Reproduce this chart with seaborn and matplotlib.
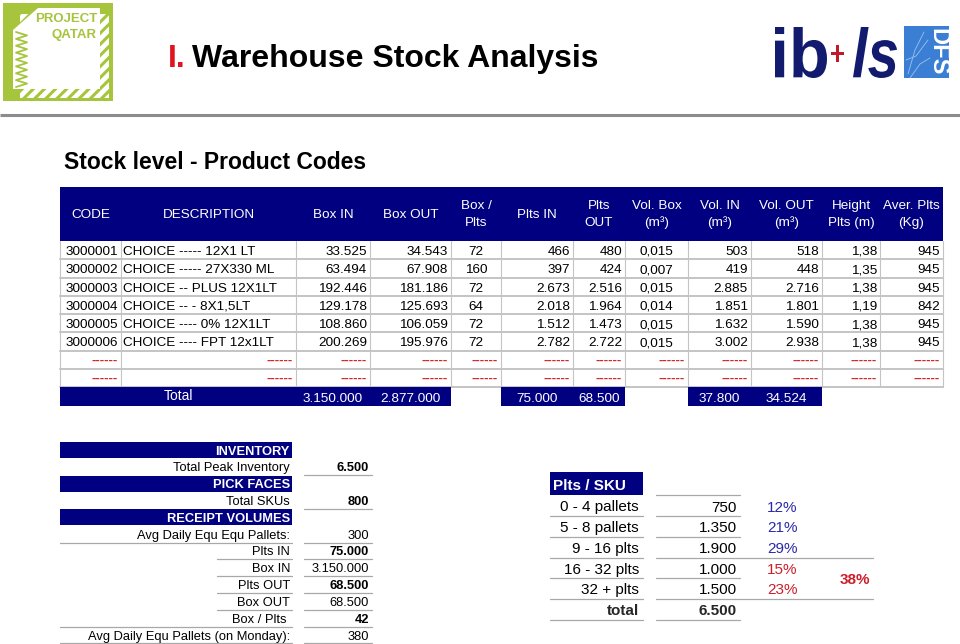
import numpy as np
import matplotlib
matplotlib.use("Agg")
import matplotlib.pyplot as plt
from matplotlib.patches import Rectangle, Polygon, PathPatch
from matplotlib.textpath import TextPath
from matplotlib.font_manager import FontProperties
from matplotlib.transforms import Affine2D
import seaborn as sns

# ---- main stock table ----
codes = ["3000001", "3000002", "3000003", "3000004", "3000005", "3000006"]
descriptions = ["CHOICE ----- 12X1 LT", "CHOICE ----- 27X330 ML", "CHOICE -- PLUS 12X1LT",
                "CHOICE -- - 8X1,5LT", "CHOICE ---- 0% 12X1LT", "CHOICE ---- FPT 12x1LT"]
box_in = [33525, 63494, 192446, 129178, 108860, 200269]
box_out = [34543, 67908, 181186, 125693, 106059, 195976]
box_per_plt = [72, 160, 72, 64, 72, 72]
plts_in = [466, 397, 2673, 2018, 1512, 2782]
plts_out = [480, 424, 2516, 1964, 1473, 2722]
vol_box = [0.015, 0.007, 0.015, 0.014, 0.015, 0.015]
vol_in = [503, 419, 2885, 1851, 1632, 3002]
vol_out = [518, 448, 2716, 1801, 1590, 2938]
height_plts = [1.38, 1.35, 1.38, 1.19, 1.38, 1.38]
aver_plts_kg = [945, 945, 945, 842, 945, 945]
n_placeholder_rows = 2

total_box_in = 3150000
total_box_out = 2877000
total_plts_in = 75000
total_plts_out = 68500
total_vol_in = 37800
total_vol_out = 34524

column_headers = ["CODE", "DESCRIPTION", "Box IN", "Box OUT", "Box /\nPlts", "Plts IN",
                  "Plts\nOUT", "Vol. Box\n(m³)", "Vol. IN\n(m³)", "Vol. OUT\n(m³)",
                  "Height\nPlts (m)", "Aver. Plts\n(Kg)"]

# ---- summary table ----
summary_labels = ["INVENTORY", "Total Peak Inventory", "PICK FACES", "Total SKUs",
                  "RECEIPT VOLUMES", "Avg Daily Equ Equ Pallets:", "Plts IN", "Box IN",
                  "Plts OUT", "Box OUT", "Box / Plts ", "Avg Daily Equ Pallets (on Monday):"]
summary_values = [None, 6500, None, 800, None, 300, 75000, 3150000, 68500, 68500, 42, 380]

# ---- pallets per SKU ----
sku_bands = ["0 - 4 pallets", "5 - 8 pallets", "9 - 16 plts", "16 - 32 plts", "32 + plts"]
sku_counts = [750, 1350, 1900, 1000, 1500]
sku_share = [12, 21, 29, 15, 23]
sku_total = 6500
sku_share_top = 38


def thou(n):
    return f"{n:,}".replace(",", ".")


def dec(v, d):
    return f"{v:.{d}f}".replace(".", ",")


NAVY = "#000080"
GRID = "#c4c4c4"
RULE = "#a8a8a8"
RED = "#cc1f2a"
BLUE = "#2a2aa8"
GREEN = "#a6c43c"

sns.set_theme(style="white")
plt.rcParams["font.family"] = ["Liberation Sans", "DejaVu Sans"]
plt.rcParams["hatch.linewidth"] = 2.2

fig = plt.figure(figsize=(9.6, 6.44), dpi=100)
ax = fig.add_axes([0, 0, 1, 1])
ax.set_xlim(0, 960)
ax.set_ylim(644, 0)
ax.axis("off")


def fitted_text(s, x0, y0, x1, y1, color, style="normal"):
    tp = TextPath((0, 0), s, size=10,
                  prop=FontProperties(family="Liberation Sans", weight="bold", style=style))
    ext = tp.get_extents()
    tr = (Affine2D().translate(-ext.x0, -ext.y0)
          .scale((x1 - x0) / ext.width, -(y1 - y0) / ext.height)
          .translate(x0, y1))
    ax.add_patch(PathPatch(tr.transform_path(tp), fc=color, ec="none"))


# ---- header: logos, title, separator ----
ax.add_patch(Rectangle((3, 3), 110, 98, fc=GREEN, ec="none"))
ax.add_patch(Rectangle((20, 14), 89, 84, fc="white", ec=GREEN, hatch="///", lw=0))
ax.add_patch(Polygon([(13, 30), (38, 8), (100, 8), (100, 89), (13, 89)], fc="white", ec="none"))
zz_y = np.linspace(32, 87, 17)
zz_x = np.tile([16, 27], 9)[:17]
ax.plot(zz_x, zz_y, color=GREEN, lw=1.3)
logo_font = ["Liberation Sans Narrow", "Liberation Sans"]
ax.text(97, 19, "PROJECT", ha="right", va="center", color=GREEN, fontsize=9.5,
        fontweight="bold", family=logo_font)
ax.text(97, 35, "QATAR", ha="right", va="center", color=GREEN, fontsize=9.5,
        fontweight="bold", family=logo_font)

fitted_text("ib", 775, 27, 827, 78, "#121b6e")
fitted_text("+", 831, 45, 844, 62, "#c01a2a", style="italic")
fitted_text("ls", 853, 27, 897, 78, "#121b6e", style="italic")
ax.add_patch(Rectangle((904, 26), 45, 52, fc="#3b7fd4", ec="none"))
for pts in ([(908, 74), (915, 50), (924, 32)], [(906, 60), (916, 56), (928, 40)],
            [(910, 78), (920, 64), (930, 58)]):
    xs, ys = zip(*pts)
    ax.plot(xs, ys, color="#9cc2ee", lw=0.6)
ax.text(938, 52, "DFS", rotation=-90, ha="center", va="center", color="white",
        fontsize=17, fontweight="bold")

ax.text(168, 67, "I.", color="#e0141e", fontsize=23, fontweight="bold", va="baseline")
ax.text(192, 67, "Warehouse Stock Analysis", color="black", fontsize=23,
        fontweight="bold", va="baseline")
ax.plot([0, 960], [115, 115], color="#8c8c8c", lw=2.2, solid_capstyle="butt")

ax.text(64, 169, "Stock level - Product Codes", color="black", fontsize=16.5,
        fontweight="bold", va="baseline")

# ---- main table ----
col_edges = [60, 121, 296, 370, 451, 501, 573, 625, 688, 751, 822, 880, 943]
col_align = ["right", "left", "right", "right", "center", "right",
             "right", "center", "right", "right", "right", "right"]
head_top, head_bot = 187, 241
row_h = 18.28
n_rows = len(codes) + n_placeholder_rows
body_bot = head_bot + n_rows * row_h
fs = 9.7
base_off = 4.8  # baseline offset below the row centre


def cell_x(j, align):
    if align == "right":
        return col_edges[j + 1] - 3
    if align == "left":
        return col_edges[j] + 2
    return (col_edges[j] + col_edges[j + 1]) / 2


ax.add_patch(Rectangle((col_edges[0], head_top), col_edges[-1] - col_edges[0],
                       head_bot - head_top, fc=NAVY, ec="none"))
for j, h in enumerate(column_headers):
    ax.text(cell_x(j, "center"), (head_top + head_bot) / 2 + 0.5, h, color="white",
            fontsize=fs, ha="center", va="center", linespacing=1.45)

for i in range(1, n_rows + 1):
    y = head_bot + i * row_h
    ax.plot([col_edges[0], col_edges[-1]], [y, y], color=GRID, lw=1.4, zorder=1)
for x in col_edges:
    ax.plot([x, x], [head_bot, body_bot], color=GRID, lw=0.8, zorder=1)

rows = []
for k in range(len(codes)):
    rows.append([codes[k], descriptions[k], thou(box_in[k]), thou(box_out[k]),
                 str(box_per_plt[k]), thou(plts_in[k]), thou(plts_out[k]), dec(vol_box[k], 3),
                 thou(vol_in[k]), thou(vol_out[k]), dec(height_plts[k], 2), str(aver_plts_kg[k])])
for i, r in enumerate(rows):
    yc = head_bot + (i + 0.5) * row_h
    for j, s in enumerate(r):
        ax.text(cell_x(j, col_align[j]), yc + base_off, s, fontsize=fs, ha=col_align[j],
                va="baseline", color="black")
for i in range(len(codes), n_rows):
    yc = head_bot + (i + 0.5) * row_h
    for j in range(len(column_headers)):
        ax.text(cell_x(j, "right"), yc + 4, "------", fontsize=9.5, fontweight="bold",
                ha="right", va="baseline", color="#d42828")

tot_top, tot_bot = body_bot, body_bot + 19
for a, b in [(0, 4), (5, 7), (8, 10)]:
    ax.add_patch(Rectangle((col_edges[a], tot_top), col_edges[b] - col_edges[a],
                           tot_bot - tot_top, fc=NAVY, ec="none", zorder=2))
tot_y = (tot_top + tot_bot) / 2
ax.text((col_edges[0] + col_edges[2]) / 2, tot_y - 1, "Total", color="white", fontsize=fs + 0.3,
        ha="center", va="center", zorder=3)
for j, v in zip([2, 3, 5, 6, 8, 9], [total_box_in, total_box_out, total_plts_in,
                                      total_plts_out, total_vol_in, total_vol_out]):
    ax.text(cell_x(j, "center"), tot_y + base_off, thou(v), color="white", fontsize=fs,
            ha="center", va="baseline", zorder=3)

# ---- summary table ----
sum_y0, sum_step = 450, 16.82
band_x0, band_x1 = 60, 292
label_x, value_x = 290, 369
val_line = (304, 372)
bold_rows = {"Total Peak Inventory", "Total SKUs", "Plts IN", "Plts OUT", "Box / Plts "}
full_rule = {"Avg Daily Equ Equ Pallets:", "Box / Plts ", "Avg Daily Equ Pallets (on Monday):"}
short_rule = {"Plts IN", "Box IN", "Plts OUT", "Box OUT"}
for i, (lab, val) in enumerate(zip(summary_labels, summary_values)):
    yc = sum_y0 + i * sum_step
    if val is None:
        ax.add_patch(Rectangle((band_x0, yc - 8), band_x1 - band_x0, 16, fc=NAVY, ec="none"))
        ax.text(label_x, yc + 4.5, lab, color="white", fontsize=9.3, fontweight="bold",
                ha="right", va="baseline")
        continue
    ax.text(label_x, yc + 4.5, lab, color="black", fontsize=9.3, ha="right", va="baseline")
    ax.text(value_x, yc + 4.5, thou(val), color="black", fontsize=9.3,
            fontweight="bold" if lab in bold_rows else "normal", ha="right", va="baseline")
    yl = yc + 8.4
    ax.plot(val_line, [yl, yl], color=RULE, lw=0.9)
    if lab in full_rule:
        ax.plot([band_x0, band_x1], [yl, yl], color=RULE, lw=0.9)
    elif lab in short_rule:
        ax.plot([217, band_x1], [yl, yl], color=RULE, lw=0.9)

# ---- pallets per SKU ----
sku_y0, sku_step = 506, 20.7
ax.add_patch(Rectangle((550, 472), 93, 23, fc=NAVY, ec="none"))
ax.text(553, 489.5, "Plts / SKU", color="white", fontsize=11, fontweight="bold",
        ha="left", va="baseline")
ax.plot([656, 740], [495, 495], color=RULE, lw=0.9)
for i, (band, cnt, sh) in enumerate(zip(sku_bands, sku_counts, sku_share)):
    yc = sku_y0 + i * sku_step
    ax.text(639, yc + 5.5, band, fontsize=11, ha="right", va="baseline", color="black")
    ax.text(737, yc + 5.5, thou(cnt), fontsize=11, ha="right", va="baseline", color="black")
    ax.text(782, yc + 5.5, f"{sh}%", fontsize=11, ha="center", va="baseline",
            color=BLUE if i < 3 else RED)
    yl = yc + 10.3
    ax.plot([550, 643], [yl, yl], color=RULE, lw=0.9)
    ax.plot([656, 873 if i in (2, 4) else 740], [yl, yl], color=RULE, lw=0.9)
yc = sku_y0 + len(sku_bands) * sku_step
ax.text(639, yc + 5.5, "total", fontsize=11, fontweight="bold", ha="right", va="baseline")
ax.text(737, yc + 5.5, thou(sku_total), fontsize=11, fontweight="bold", ha="right",
        va="baseline")
ax.plot([550, 643], [yc + 10.3, yc + 10.3], color=RULE, lw=0.9)
ax.plot([656, 740], [yc + 10.3, yc + 10.3], color=RULE, lw=0.9)
ax.text(855, sku_y0 + 3.5 * sku_step + 5.5, f"{sku_share_top}%", fontsize=11,
        fontweight="bold", ha="center", va="baseline", color=RED)

fig.savefig("out.png", dpi=100)
